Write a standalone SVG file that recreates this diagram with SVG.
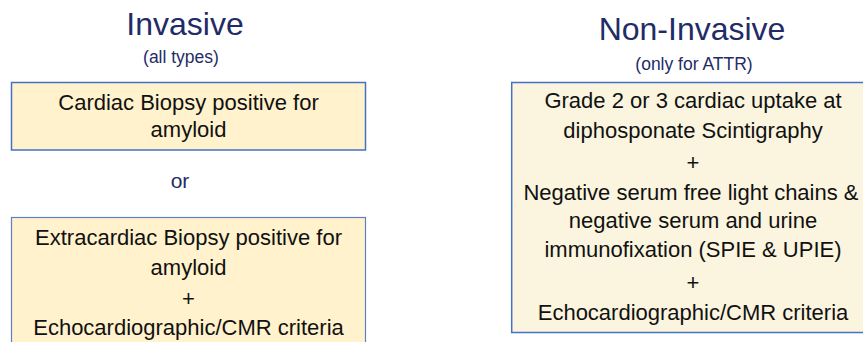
<svg xmlns="http://www.w3.org/2000/svg" width="863" height="342" viewBox="0 0 863 342">
<style>
.title{font-family:"Liberation Sans",Arial,sans-serif;fill:#1F2C66;text-anchor:middle}
.t{font-family:"Liberation Sans",Arial,sans-serif;font-size:22px;fill:#111;text-anchor:middle}
.boxL{fill:#FFF2CC;stroke:#4472C4;stroke-width:1.5}
.boxR{fill:#FBF5DF;stroke:#4472C4;stroke-width:1.5}
</style>
<rect width="863" height="342" fill="#fff"/>
<g id="invasive-header">
<text class="title" x="185" y="35" font-size="32">Invasive</text>
<text class="title" x="181" y="63" font-size="17.5">(all types)</text>
</g>
<g id="noninvasive-header">
<text class="title" x="692" y="40" font-size="32">Non-Invasive</text>
<text class="title" x="694" y="70" font-size="17.5">(only for ATTR)</text>
</g>
<g id="cardiac-biopsy">
<rect class="boxL" x="11.5" y="82.5" width="354" height="67.5"/>
<text class="t" x="188.5" y="110">Cardiac Biopsy positive for</text>
<text class="t" x="188.5" y="137">amyloid</text>
</g>
<g id="or-label">
<text class="title" x="180" y="188" font-size="21">or</text>
</g>
<g id="extracardiac-biopsy">
<rect x="11.5" y="217.5" width="354" height="140" fill="#FFF2CC" stroke="#5B80C8" stroke-width="1.2"/>
<text class="t" x="188.5" y="245">Extracardiac Biopsy positive for</text>
<text class="t" x="188.5" y="275">amyloid</text>
<text class="t" x="188.5" y="306">+</text>
<text class="t" x="188.5" y="335">Echocardiographic/CMR criteria</text>
</g>
<g id="non-invasive-criteria">
<rect class="boxR" x="511.7" y="82.5" width="360" height="250"/>
<text class="t" x="693" y="108">Grade 2 or 3 cardiac uptake at</text>
<text class="t" x="693" y="138">diphosponate Scintigraphy</text>
<text class="t" x="693" y="170">+</text>
<text class="t" x="691" y="200">Negative serum free light chains &amp;</text>
<text class="t" x="693" y="228">negative serum and urine</text>
<text class="t" x="693" y="257">immunofixation (SPIE &amp; UPIE)</text>
<text class="t" x="693" y="290">+</text>
<text class="t" x="693" y="320">Echocardiographic/CMR criteria</text>
</g>
<g id="connectors"></g>
</svg>
